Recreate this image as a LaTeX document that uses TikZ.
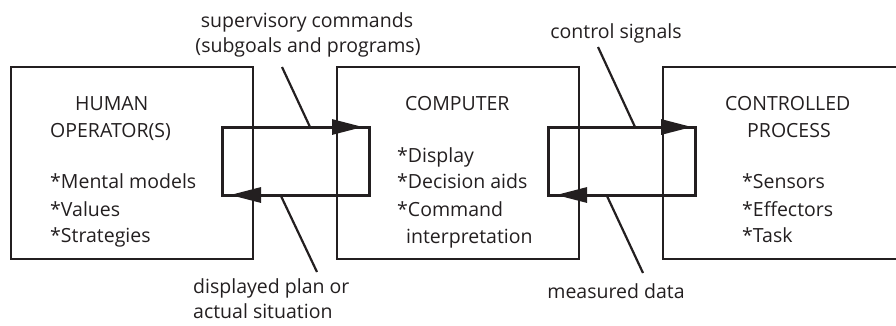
\documentclass[tikz,border=0pt]{standalone}
\usepackage{fontspec}
\setmainfont{Open Sans}
\usetikzlibrary{arrows.meta}
\definecolor{ink}{RGB}{35,31,32}
\begin{document}
\begin{tikzpicture}[x=1pt,y=-1pt,
  txt/.style={inner sep=0pt, font=\fontsize{19.5}{25}\selectfont, text=ink},
  box/.style={draw=ink, line width=2pt, minimum width=242pt, minimum height=192pt, inner sep=0pt},
  loopline/.style={draw=ink, line width=3pt, line join=miter},
  flowtip/.style={-{Triangle[length=31pt,width=15pt]}},
  lead/.style={draw=ink, line width=2.2pt}]
\clip (0,0) rectangle (896,325);

% the three blocks (the last one runs off the right edge)
\node[box] (human) at (132,163) {};
\node[box] (computer) at (458,163) {};
\node[box] (process) at (784,163) {};

% block contents
\node[txt, anchor=base west] (h1) at (75,110) {HUMAN};
\node[txt, anchor=base west] (h2) at (50,137) {OPERATOR(S)};
\node[txt, anchor=base west] (h3) at (50,188) {*Mental models};
\node[txt, anchor=base west] (h4) at (50,216) {*Values};
\node[txt, anchor=base west] (h5) at (50,242) {*Strategies};

\node[txt, anchor=base west] (c1) at (405,110) {COMPUTER};
\node[txt, anchor=base west] (c2) at (397,162) {*Display};
\node[txt, anchor=base west] (c3) at (397,188) {*Decision aids};
\node[txt, anchor=base west] (c4) at (397,216) {*Command};
\node[txt, anchor=base west] (c5) at (406,243) {interpretation};

\node[txt, anchor=base west] (p1) at (725,110) {CONTROLLED};
\node[txt, anchor=base west] (p2) at (747,137) {PROCESS};
\node[txt, anchor=base west] (p3) at (742,188) {*Sensors};
\node[txt, anchor=base west] (p4) at (742,216) {*Effectors};
\node[txt, anchor=base west] (p5) at (742,242) {*Task};

% loop between operator and computer
\coordinate (a1) at (222,127);
\coordinate (a2) at (369,127);
\coordinate (a3) at (369,195);
\coordinate (a4) at (222,195);
\coordinate (a5) at (332,127);
\coordinate (a6) at (363,127);
\coordinate (a7) at (260,195);
\coordinate (a8) at (230,195);
\draw[loopline] (a1) -- (a2) -- (a3) -- (a4) -- cycle;
\draw[loopline, flowtip] (a5) -- (a6);
\draw[loopline, flowtip] (a7) -- (a8);

% loop between computer and process
\coordinate (b1) at (548,127);
\coordinate (b2) at (695,127);
\coordinate (b3) at (695,195);
\coordinate (b4) at (548,195);
\coordinate (b5) at (658,127);
\coordinate (b6) at (692,127);
\coordinate (b7) at (587,195);
\coordinate (b8) at (556,195);
\draw[loopline] (b1) -- (b2) -- (b3) -- (b4) -- cycle;
\draw[loopline, flowtip] (b5) -- (b6);
\draw[loopline, flowtip] (b7) -- (b8);

% signal labels
\node[txt, anchor=base] (s1) at (307,27) {supervisory commands};
\node[txt, anchor=base] (s2) at (308,52) {(subgoals and programs)};
\node[txt, anchor=base] (cs) at (616,38) {control signals};
\node[txt, anchor=base west] (d1) at (193,293) {displayed plan or};
\node[txt, anchor=base west] (d2) at (193,318) {actual situation};
\node[txt, anchor=base] (md) at (616,298) {measured data};

% leader lines from labels to the signal paths
\coordinate (s1a) at (282,67);
\coordinate (s1b) at (310,127);
\coordinate (d1a) at (281,196);
\coordinate (d1b) at (317,272);
\coordinate (csa) at (598,47);
\coordinate (csb) at (635,127);
\coordinate (mda) at (607,196);
\coordinate (mdb) at (643,273);
\draw[lead] (s1a) -- (s1b);
\draw[lead] (d1a) -- (d1b);
\draw[lead] (csa) -- (csb);
\draw[lead] (mda) -- (mdb);
\end{tikzpicture}
\end{document}
